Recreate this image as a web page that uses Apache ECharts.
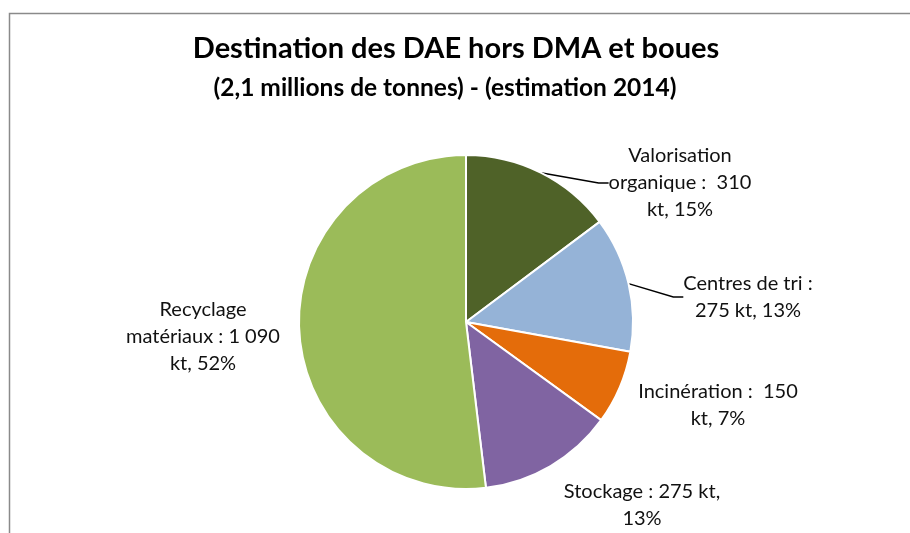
<!DOCTYPE html>
<html>
<head>
    <meta charset="utf-8">
    <title>Destination des DAE hors DMA et boues</title>
    <script src="https://cdn.jsdelivr.net/npm/echarts@6/dist/echarts.min.js"></script>
    <style>
        html, body { margin: 0; padding: 0; background: #fff; }
        #chart1 { width: 910px; height: 533px; }
    </style>
</head>
<body>
<!-- conteneur du graphique -->
<div id="chart1"></div>

<script type="text/javascript">
    // données (kt)
    var categories = ['Valorisation organique', 'Centres de tri', 'Incinération', 'Stockage', 'Recyclage matériaux'];
    var values = [310, 275, 150, 275, 1090];
    var labelTexts = [
        'Valorisation\norganique :  310\nkt, 15%',
        'Centres de tri :\n275 kt, 13%',
        'Incinération :  150\nkt, 7%',
        'Stockage : 275 kt,\n13%',
        'Recyclage\nmatériaux : 1 090\nkt, 52%'
    ];
    var colors = ['#4F6228', '#95B3D7', '#E46C0A', '#8064A2', '#9BBB59'];
    var showLine = [true, true, false, false, false];

    // position des étiquettes
    var labelPos = [[680, 183], [748, 297], [718, 405], [642, 505], [203, 337]];

    var myChart1 = echarts.init(document.getElementById('chart1'));

    var pieData = categories.map(function (c, i) {
        return {
            name: c,
            value: values[i],
            itemStyle: { color: colors[i] },
            labelLine: { show: showLine[i] }
        };
    });

    myChart1.setOption({
        animation: false,
        textStyle: { fontFamily: 'Lato' },
        title: [{
            text: 'Destination des DAE hors DMA et boues',
            left: 451,
            textAlign: 'center',
            top: 29,
            textStyle: { fontFamily: 'Lato', fontSize: 29, fontWeight: 'bold', color: '#000' }
        }, {
            text: '(2,1 millions de tonnes) - (estimation 2014)',
            left: 440,
            textAlign: 'center',
            top: 71,
            textStyle: { fontFamily: 'Lato', fontSize: 24.5, fontWeight: 'bold', color: '#000' }
        }],
        graphic: [{
            type: 'rect',
            shape: { x: 9.5, y: 13.5, width: 1000, height: 1000 },
            style: { fill: null, stroke: '#8a8a8a', lineWidth: 1.5 },
            silent: true
        }],
        series: [{
            type: 'pie',
            center: [466, 322],
            radius: 167,
            startAngle: 90,
            clockwise: true,
            data: pieData,
            itemStyle: { borderColor: '#fff', borderWidth: 2 },
            label: {
                show: true,
                formatter: function (p) { return labelTexts[p.dataIndex]; },
                fontFamily: 'Lato',
                fontSize: 20,
                lineHeight: 27,
                color: '#111',
                align: 'center'
            },
            labelLine: {
                show: true,
                length: 10,
                length2: 10,
                lineStyle: { color: '#000', width: 1.5 }
            },
            labelLayout: function (params) {
                var p = labelPos[params.dataIndex];
                return { x: p[0], y: p[1], align: 'center', verticalAlign: 'middle' };
            }
        }]
    });
</script>
</body>
</html>
